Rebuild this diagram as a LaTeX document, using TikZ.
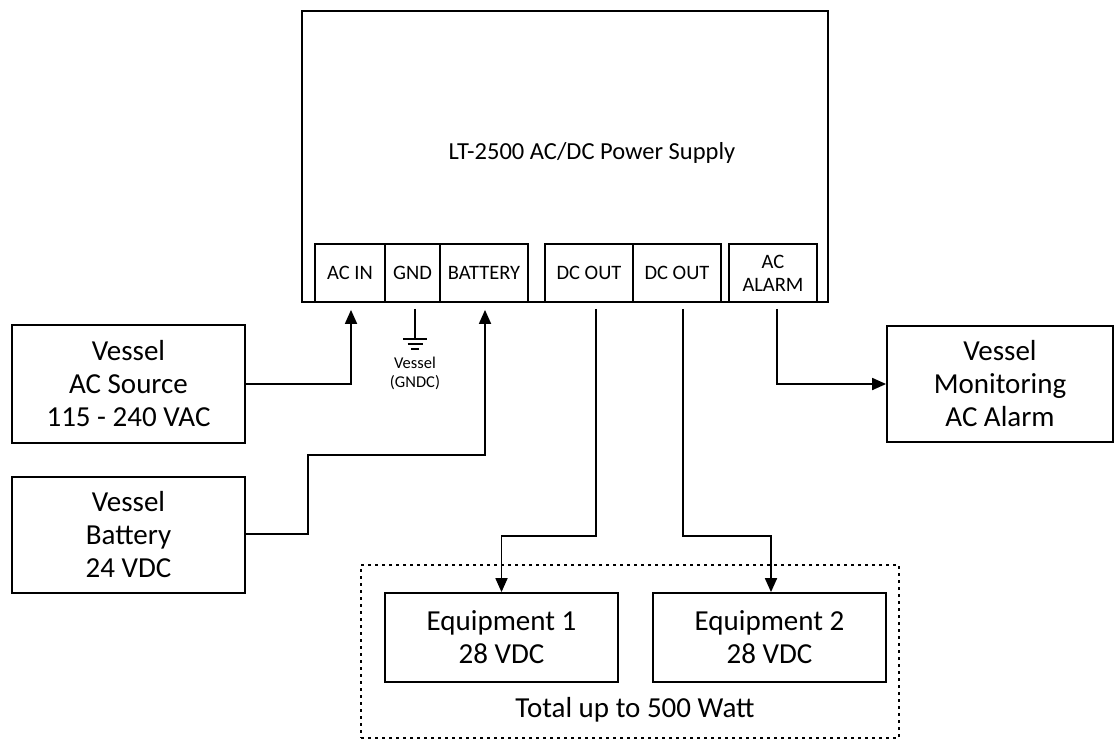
\documentclass[tikz,border=0pt]{standalone}
\usepackage{fontspec}
\setmainfont{Carlito}
\usetikzlibrary{arrows.meta,calc}
\begin{document}
\begin{tikzpicture}[x=1pt,y=-1pt,line width=1.8pt,
  box/.style={draw,rectangle,inner sep=0pt,align=center,font=\fontsize{29}{33}\selectfont},
  term/.style={draw,rectangle,inner sep=0pt,align=center,minimum height=58pt,font=\fontsize{20.5}{23}\selectfont},
  wire/.style={draw,line width=1.8pt},
  arr/.style={-{Triangle[length=14pt,width=12pt]}}
]
\useasboundingbox (0,0) rectangle (1115,740);
% main unit
\node[draw,rectangle,inner sep=0pt,minimum width=526pt,minimum height=291pt] (main) at (565,156.5) {};
\node[font=\fontsize{24.5}{28}\selectfont] (title) at (592,153) {LT-2500 AC/DC Power Supply};
% terminals
\node[term,minimum width=70pt] (acin) at (350,273) {AC IN};
\node[term,minimum width=55pt] (gnd) at (412.5,273) {GND};
\node[term,minimum width=88pt] (batt) at (484,273) {BATTERY};
\node[term,minimum width=88pt] (dc1) at (589,273) {DC OUT};
\node[term,minimum width=88pt] (dc2) at (677,273) {DC OUT};
\node[term,minimum width=88pt] (alarm) at (773,273) {AC\\ALARM};
% external boxes
\node[box,minimum width=233pt,minimum height=118pt] (acsrc) at (128.5,384) {Vessel\\AC Source\\115 - 240 VAC};
\node[box,minimum width=233pt,minimum height=116pt] (vbat) at (128.5,535) {Vessel\\Battery\\24 VDC};
\node[box,minimum width=226pt,minimum height=116pt] (mon) at (1000,384) {Vessel\\Monitoring\\AC Alarm};
% load group
\node[draw,rectangle,dash pattern=on 3pt off 4pt,inner sep=0pt,minimum width=538pt,minimum height=173pt] (group) at (630,651.5) {};
\node[box,minimum width=233pt,minimum height=89pt] (eq1) at (501.5,637.5) {Equipment 1\\28 VDC};
\node[box,minimum width=233pt,minimum height=89pt] (eq2) at (769.5,637.5) {Equipment 2\\28 VDC};
\node[font=\fontsize{29}{33}\selectfont] (total) at (635,710) {Total up to 500 Watt};
% ground
\coordinate (gtop) at ($(gnd.south)+(2.5,6)$);
\coordinate (gsym) at ($(gnd.south)+(2.5,36)$);
\draw (gtop) -- (gsym);
\draw[line width=1.4pt] ($(gsym)+(-12,0)$) -- ($(gsym)+(12,0)$);
\draw[line width=1.4pt] ($(gsym)+(-7.5,5)$) -- ($(gsym)+(7.5,5)$);
\draw[line width=1.4pt] ($(gsym)+(-4,10)$) -- ($(gsym)+(4,10)$);
\node[font=\fontsize{16.5}{19}\selectfont,align=center] (gndlbl) at ($(gnd.south)+(2.5,71)$) {Vessel\\(GNDC)};
% wires
\draw[arr,shorten >=7pt] (acsrc.east) -| ([xshift=1pt]acin.south);
\draw[arr,shorten >=7pt] ([yshift=1pt]vbat.east) -- ++(62,0) |- ($(batt.south)+(1,152)$) -| ([xshift=1pt]batt.south);
\draw[arr,shorten <=6pt] ([xshift=7pt]dc1.south) |- ($(dc1.south)+(7,233)$) -| (eq1.north);
\draw[arr,shorten <=6pt] ([xshift=6pt]dc2.south) |- ($(dc2.south)+(6,233)$) -| ([xshift=1.5pt]eq2.north);
\draw[arr,shorten <=6pt] ([xshift=4pt]alarm.south) |- (mon.west);
\end{tikzpicture}
\end{document}
